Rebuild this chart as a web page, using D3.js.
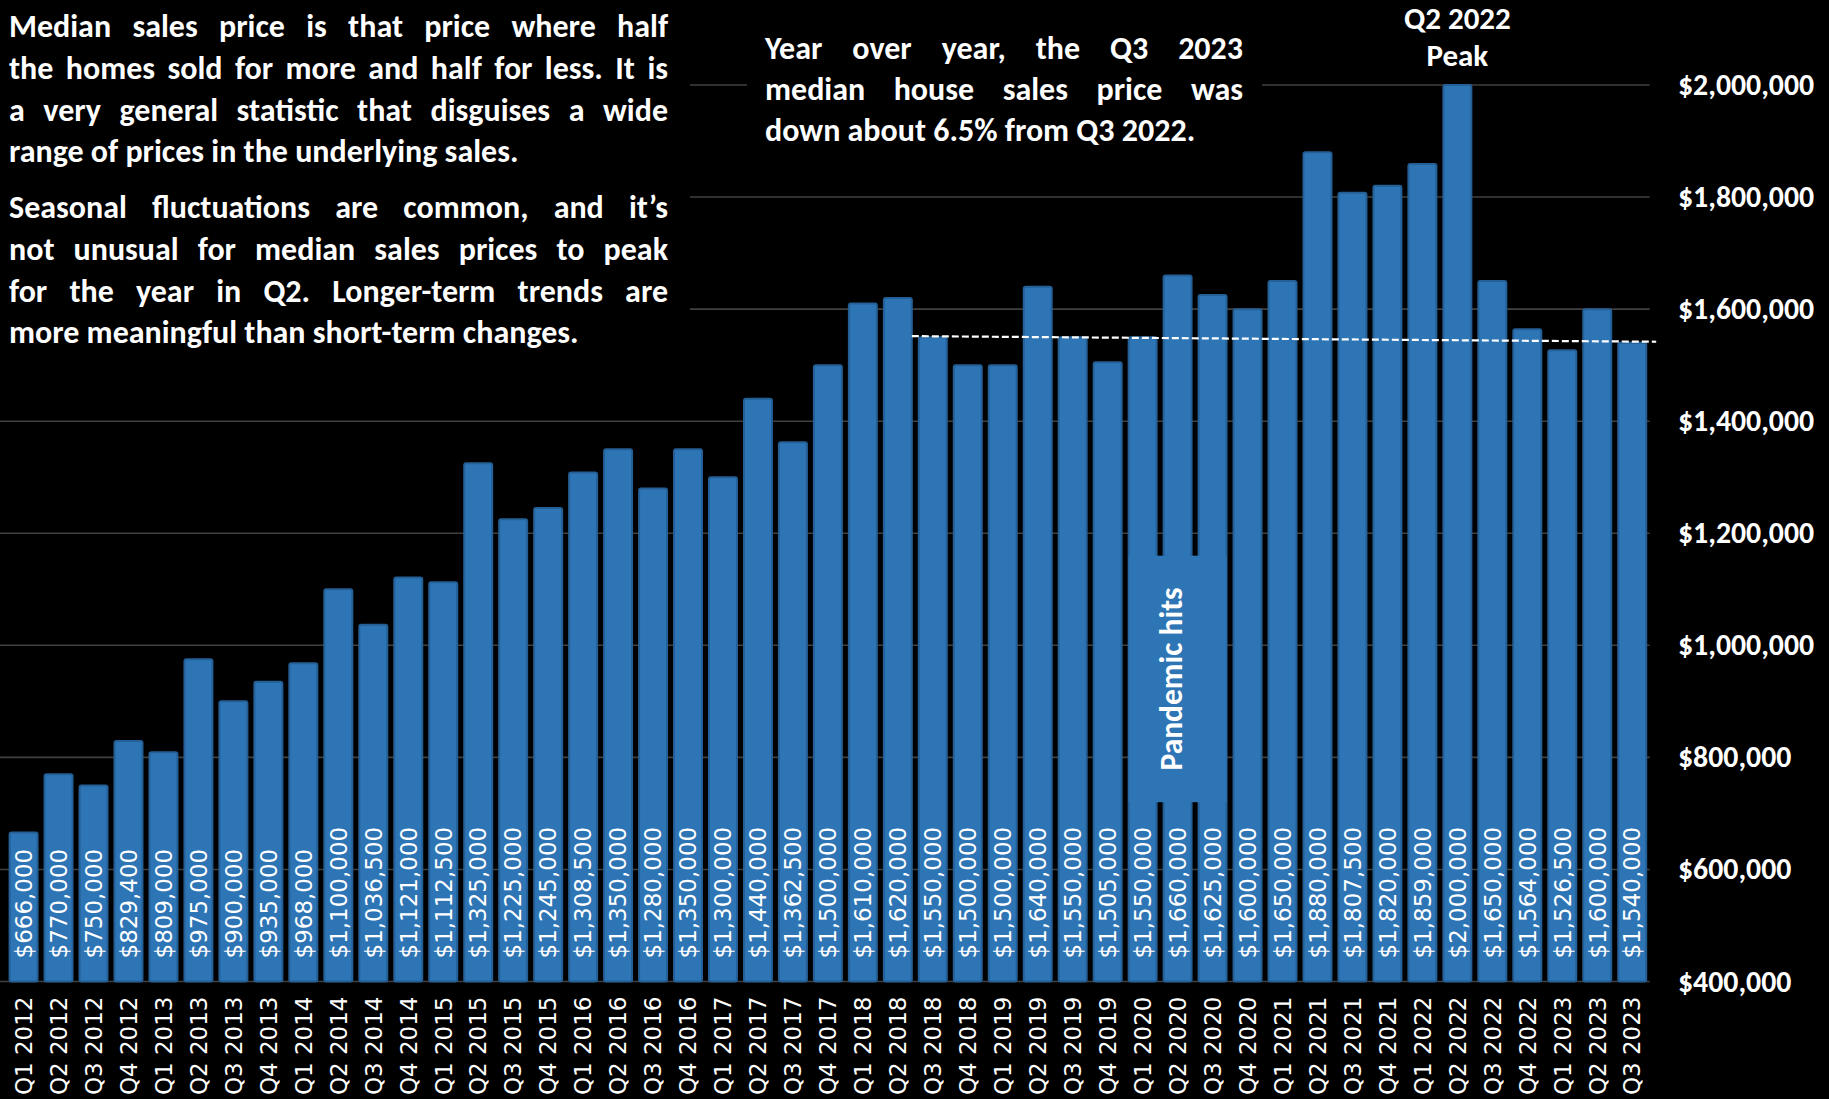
<!DOCTYPE html>
<html>
<head>
<meta charset="utf-8">
<script src="https://cdn.jsdelivr.net/npm/d3@7"></script>
<style>
  html, body { margin: 0; padding: 0; background: #000; }
  svg { display: block; }
</style>
</head>
<body>
<svg id="chart" width="1829" height="1099"></svg>
<script>
// Quarterly median house sales price, Q1 2012 – Q3 2023
const quarters = [
  "Q1 2012","Q2 2012","Q3 2012","Q4 2012",
  "Q1 2013","Q2 2013","Q3 2013","Q4 2013",
  "Q1 2014","Q2 2014","Q3 2014","Q4 2014",
  "Q1 2015","Q2 2015","Q3 2015","Q4 2015",
  "Q1 2016","Q2 2016","Q3 2016","Q4 2016",
  "Q1 2017","Q2 2017","Q3 2017","Q4 2017",
  "Q1 2018","Q2 2018","Q3 2018","Q4 2018",
  "Q1 2019","Q2 2019","Q3 2019","Q4 2019",
  "Q1 2020","Q2 2020","Q3 2020","Q4 2020",
  "Q1 2021","Q2 2021","Q3 2021","Q4 2021",
  "Q1 2022","Q2 2022","Q3 2022","Q4 2022",
  "Q1 2023","Q2 2023","Q3 2023"
];
const prices = [
  666000, 770000, 750000, 829400,
  809000, 975000, 900000, 935000,
  968000, 1100000, 1036500, 1121000,
  1112500, 1325000, 1225000, 1245000,
  1308500, 1350000, 1280000, 1350000,
  1300000, 1440000, 1362500, 1500000,
  1610000, 1620000, 1550000, 1500000,
  1500000, 1640000, 1550000, 1505000,
  1550000, 1660000, 1625000, 1600000,
  1650000, 1880000, 1807500, 1820000,
  1859000, 2000000, 1650000, 1564000,
  1526500, 1600000, 1540000
];
const yTicks = [400000, 600000, 800000, 1000000, 1200000, 1400000, 1600000, 1800000, 2000000];

// Reference line runs from Q3 2018 to Q3 2023
const refStart = "Q3 2018";
const refEnd = "Q3 2023";
// Pandemic marker spans Q1–Q3 2020, price band for the label box
const pandemicQuarters = ["Q1 2020", "Q2 2020", "Q3 2020"];
const pandemicBand = [720000, 1160000];
const peakQuarter = "Q2 2022";

const notesLeft = [
  ["Median sales price is that price where half",
   "the homes sold for more and half for less. It is",
   "a very general statistic that disguises a wide",
   "range of prices in the underlying sales."],
  ["Seasonal fluctuations are common, and it\u2019s",
   "not unusual for median sales prices to peak",
   "for the year in Q2. Longer-term trends are",
   "more meaningful than short-term changes."]
];
const notesRight = [
  ["Year over year, the Q3 2023",
   "median house sales price was",
   "down about 6.5% from Q3 2022."]
];

const data = quarters.map((q, i) => ({ q, v: prices[i] }));

const bodyFont = "Calibri, Carlito, Lato, 'Open Sans', sans-serif";
const tickFont = "'DejaVu Sans', Verdana, sans-serif";
const barColor = "#2E75B6";

const svg = d3.select("#chart");

const x = d3.scaleBand()
  .domain(quarters)
  .range([6.1, 1649.7])
  .paddingInner(0.2)
  .paddingOuter(0.1);

const y = d3.scaleLinear()
  .domain([400000, 2000000])
  .range([981.5, 85]);

const bw = x.bandwidth();
const gap = x.step() - bw;

// Horizontal gridlines
svg.append("g")
  .selectAll("line")
  .data(yTicks)
  .join("line")
  .attr("x1", 0)
  .attr("x2", x.range()[1])
  .attr("y1", d => y(d))
  .attr("y2", d => y(d))
  .attr("stroke", "#404040")
  .attr("stroke-width", 1.6);

// Black panels behind the notes hide the gridlines there
svg.append("rect").attr("x", 0).attr("y", 0).attr("width", 690).attr("height", 355).attr("fill", "#000");
svg.append("rect").attr("x", 747).attr("y", 18).attr("width", 515).attr("height", 135).attr("fill", "#000");

// Bars, with a thin darker outline
svg.append("g")
  .selectAll("rect")
  .data(data)
  .join("rect")
  .attr("x", d => x(d.q))
  .attr("y", d => y(d.v))
  .attr("width", bw)
  .attr("height", d => y.range()[0] - y(d.v))
  .attr("rx", 2)
  .attr("fill", barColor)
  .attr("stroke", "#245f96")
  .attr("stroke-width", 2);

// Pandemic marker box
svg.append("rect")
  .attr("x", x(pandemicQuarters[0]))
  .attr("y", y(pandemicBand[1]))
  .attr("width", x(pandemicQuarters[2]) + bw - x(pandemicQuarters[0]))
  .attr("height", y(pandemicBand[0]) - y(pandemicBand[1]))
  .attr("fill", barColor);

const pcx = x(pandemicQuarters[1]) + bw / 2 - 6;
const pcy = (y(pandemicBand[0]) + y(pandemicBand[1])) / 2;
svg.append("text")
  .attr("transform", `translate(${pcx},${pcy}) rotate(-90)`)
  .attr("text-anchor", "middle")
  .attr("dy", "0.33em")
  .attr("font-family", bodyFont)
  .attr("font-weight", 700)
  .attr("font-size", 31.5)
  .attr("fill", "#fff")
  .text("Pandemic hits");

// Dashed reference line joining the Q3 2018 and Q3 2023 bar tops
const vStart = prices[quarters.indexOf(refStart)];
const vEnd = prices[quarters.indexOf(refEnd)];
svg.append("line")
  .attr("x1", x(refStart) - gap)
  .attr("x2", x(refEnd) + bw + 10)
  .attr("y1", y(vStart) - 1)
  .attr("y2", y(vEnd) - 1)
  .attr("stroke", "#fff")
  .attr("stroke-width", 2.2)
  .attr("stroke-dasharray", "7,3");

// Value labels inside bars, reading upward
svg.append("g")
  .selectAll("text")
  .data(data)
  .join("text")
  .attr("transform", d => `translate(${x(d.q) + bw / 2},${y.range()[0] - 23}) rotate(-90)`)
  .attr("dy", "0.36em")
  .attr("text-anchor", "start")
  .attr("font-family", tickFont)
  .attr("font-size", 23)
  .attr("fill", "#fff")
  .text(d => d3.format("$,")(d.v));

// Category axis labels
const xAxis = svg.append("g")
  .attr("transform", `translate(0,${y.range()[0]})`)
  .call(d3.axisBottom(x).tickSize(0).tickPadding(0));
xAxis.select(".domain").remove();
xAxis.selectAll(".tick text")
  .attr("transform", "translate(0,15) rotate(-90)")
  .attr("x", 0)
  .attr("y", 0)
  .attr("dy", "0.36em")
  .attr("text-anchor", "end")
  .attr("font-family", tickFont)
  .attr("font-size", 23)
  .attr("fill", "#fff");

// Price axis on the right
const yAxis = svg.append("g")
  .attr("transform", `translate(1678,0)`)
  .call(d3.axisRight(y).tickValues(yTicks).tickFormat(d3.format("$,")).tickSize(0).tickPadding(0));
yAxis.select(".domain").remove();
yAxis.selectAll(".tick text")
  .attr("font-family", bodyFont)
  .attr("font-weight", 700)
  .attr("font-size", 29.8)
  .attr("fill", "#fff");

// Peak annotation
const peakX = x(peakQuarter) + bw / 2;
const peak = svg.append("text")
  .attr("text-anchor", "middle")
  .attr("font-family", bodyFont)
  .attr("font-weight", 700)
  .attr("font-size", 31)
  .attr("fill", "#fff");
peak.append("tspan").attr("x", peakX).attr("y", 28.5).text(peakQuarter);
peak.append("tspan").attr("x", peakX).attr("y", 65.5).text("Peak");

// Justified note blocks
function drawJustified(paras, left, width, baselines, size) {
  const g = svg.append("g")
    .attr("font-family", bodyFont)
    .attr("font-weight", 700)
    .attr("font-size", size)
    .attr("fill", "#fff");
  const probe = g.append("text").attr("visibility", "hidden");
  const measure = s => { probe.text(s); return probe.node().getComputedTextLength(); };
  const spaceW = measure("a a") - measure("aa");
  const rows = [];
  paras.forEach(p => p.forEach((line, i) => rows.push({ words: line.split(" "), last: i === p.length - 1 })));
  rows.forEach(r => {
    r.ws = r.words.map(measure);
    r.natural = d3.sum(r.ws) + spaceW * (r.words.length - 1);
  });
  probe.remove();
  const sx = Math.min(1, width / d3.max(rows, r => r.natural));
  const W = width / sx;
  const inner = g.append("g").attr("transform", `translate(${left},0) scale(${sx},1)`);
  rows.forEach((r, k) => {
    const space = r.last ? spaceW : (W - d3.sum(r.ws)) / (r.words.length - 1);
    let cx = 0;
    const t = inner.append("text").attr("y", baselines[k]);
    r.words.forEach((w, j) => {
      t.append("tspan").attr("x", cx).text(w);
      cx += r.ws[j] + space;
    });
  });
}

drawJustified(notesLeft, 9, 659, [37, 79, 121, 162, 218, 260, 302, 343], 32);
drawJustified(notesRight, 765, 478, [59, 100, 141], 32);
</script>
</body>
</html>
